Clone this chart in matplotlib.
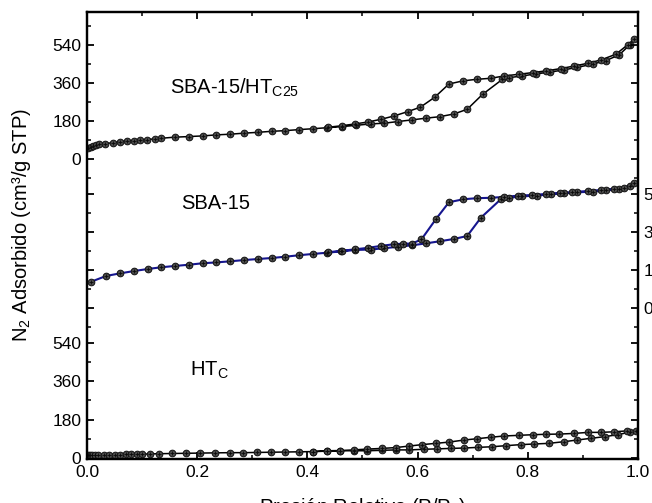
import matplotlib
matplotlib.use("Agg")
import matplotlib.pyplot as plt
from matplotlib.ticker import FixedLocator

plt.rcParams['font.family'] = ['Liberation Sans', 'DejaVu Sans']
plt.rcParams['mathtext.fontset'] = 'custom'
plt.rcParams['mathtext.rm'] = 'Liberation Sans'
plt.rcParams['mathtext.default'] = 'regular'

# --- datos (P/Po, cm3/g STP) ---
# SBA-15/HT_C25
comp_ads_x = [0.002, 0.007, 0.011, 0.016, 0.022, 0.033, 0.048, 0.060, 0.072, 0.085, 0.097, 0.109,
              0.123, 0.135, 0.159, 0.185, 0.210, 0.235, 0.259, 0.285, 0.310, 0.336, 0.360, 0.385,
              0.410, 0.436, 0.462, 0.488, 0.515, 0.539, 0.564, 0.590, 0.615, 0.640, 0.666, 0.690,
              0.718, 0.754, 0.766, 0.790, 0.815, 0.840, 0.866, 0.890, 0.918, 0.942, 0.966, 0.985, 0.993]
comp_ads_y = [51, 58, 63, 66, 70, 73, 77, 82, 85, 87, 90, 92,
              95, 98, 103, 106, 109, 114, 117, 122, 126, 131, 134, 139,
              143, 148, 153, 159, 166, 169, 177, 185, 193, 200, 213, 235,
              306, 377, 385, 393, 403, 411, 422, 434, 449, 466, 493, 540, 567]
comp_des_x = [0.981, 0.960, 0.933, 0.909, 0.884, 0.860, 0.833, 0.809, 0.784, 0.757, 0.733, 0.707,
              0.683, 0.657, 0.631, 0.605, 0.582, 0.558, 0.534, 0.510, 0.487, 0.462, 0.437]
comp_des_y = [540, 496, 469, 453, 440, 428, 417, 409, 401, 393, 382, 377,
              370, 355, 292, 245, 224, 204, 188, 175, 166, 157, 150]

# SBA-15
sba_ads_x = [0.008, 0.035, 0.060, 0.085, 0.111, 0.135, 0.159, 0.185, 0.210, 0.235, 0.259, 0.285,
             0.310, 0.336, 0.360, 0.385, 0.410, 0.436, 0.461, 0.487, 0.515, 0.539, 0.564, 0.590,
             0.615, 0.640, 0.666, 0.690, 0.715, 0.751, 0.766, 0.790, 0.816, 0.842, 0.866, 0.890,
             0.918, 0.942, 0.966, 0.985, 0.993]
sba_ads_y = [125, 152, 164, 175, 185, 193, 199, 205, 212, 216, 221, 227,
             232, 237, 243, 250, 256, 262, 268, 275, 277, 283, 290, 297,
             306, 316, 327, 341, 428, 515, 522, 529, 532, 539, 543, 548,
             551, 558, 564, 578, 592]
sba_des_x = [0.975, 0.957, 0.933, 0.909, 0.881, 0.859, 0.833, 0.807, 0.782, 0.757, 0.733, 0.707,
             0.683, 0.657, 0.633, 0.607, 0.590, 0.574, 0.557, 0.533, 0.510, 0.487, 0.462, 0.437]
sba_des_y = [567, 564, 559, 554, 549, 545, 540, 535, 532, 526, 522, 520,
             515, 501, 420, 325, 305, 305, 302, 294, 285, 278, 271, 264]

# HT_C
ht_ads_x = [0.002, 0.006, 0.010, 0.015, 0.020, 0.030, 0.040, 0.050, 0.060, 0.070, 0.080, 0.090,
            0.100, 0.115, 0.130, 0.155, 0.180, 0.205, 0.233, 0.260, 0.284, 0.309, 0.334, 0.360,
            0.385, 0.410, 0.436, 0.460, 0.484, 0.509, 0.535, 0.560, 0.584, 0.612, 0.636, 0.660,
            0.685, 0.710, 0.735, 0.760, 0.787, 0.812, 0.838, 0.866, 0.890, 0.915, 0.940, 0.963,
            0.985, 0.997]
ht_ads_y = [10, 11, 12, 12, 13, 13, 14, 14, 14, 15, 15, 16,
            16, 17, 18, 19, 20, 21, 22, 23, 23, 24, 25, 26,
            27, 28, 30, 32, 32, 32, 34, 36, 36, 39, 41, 43,
            45, 48, 51, 56, 61, 64, 67, 75, 83, 91, 99, 108,
            120, 127]
ht_des_x = [0.980, 0.957, 0.933, 0.909, 0.884, 0.857, 0.833, 0.809, 0.784, 0.757, 0.733, 0.708,
            0.685, 0.657, 0.633, 0.608, 0.584, 0.560, 0.535, 0.509, 0.484, 0.460, 0.436, 0.410]
ht_des_y = [126, 122, 119, 119, 114, 111, 110, 108, 105, 102, 96, 89,
            83, 73, 67, 61, 54, 47, 43, 40, 36, 33, 32, 28]

y_ticks = [0, 180, 360, 540]

# desplazamiento vertical de cada isoterma (unidades del eje)
OFF_HT, OFF_SBA, OFF_COMP = 0, 708, 1414

fig = plt.figure(figsize=(6.52, 5.03), dpi=100)
ax = fig.add_axes([0.1334, 0.0875, 0.8451, 0.8887])


def iso(xa, ya, xd, yd, off, color, lw):
    x = xa + xd
    y = [v + off for v in ya + yd]
    ax.plot(x, y, '-', color=color, lw=lw, zorder=2)
    ax.plot(x, y, 'o', ms=4.8, mfc='#4a4a4a', mec='#111111', mew=0.7, zorder=3)
    ax.plot(x, y, '+', ms=3.4, color='#0a0a0a', mew=0.6, zorder=4)


iso(comp_ads_x, comp_ads_y, comp_des_x, comp_des_y, OFF_COMP, 'black', 1.1)
iso(sba_ads_x, sba_ads_y, sba_des_x, sba_des_y, OFF_SBA, '#16168f', 1.5)
iso(ht_ads_x, ht_ads_y, ht_des_x, ht_des_y, OFF_HT, 'black', 1.1)

ax.set_xlim(0, 1.0)
ax.set_ylim(-7, 2110)

# ticks eje y: etiquetas solo arriba y abajo a la izquierda, medio a la derecha
major = [OFF_HT + v for v in y_ticks] + [OFF_SBA + v for v in y_ticks] + [OFF_COMP + v for v in y_ticks]
left_lab = [str(v) for v in y_ticks] + [''] * 4 + [str(v) for v in y_ticks]
right_lab = [''] * 4 + [str(v) for v in y_ticks] + [''] * 4
minor = ([OFF_HT + v for v in (90, 270, 450)] +
         [OFF_SBA + v for v in (-90, 90, 270, 450)] +
         [OFF_COMP + v for v in (-90, 90, 270, 450, 630)])

ax.yaxis.set_major_locator(FixedLocator(major))
ax.set_yticklabels(left_lab)
ax.yaxis.set_minor_locator(FixedLocator(minor))
ax.xaxis.set_major_locator(FixedLocator([0, 0.2, 0.4, 0.6, 0.8, 1.0]))
ax.xaxis.set_minor_locator(FixedLocator([0.1, 0.3, 0.5, 0.7, 0.9]))
ax.set_xticklabels(['0.0', '0.2', '0.4', '0.6', '0.8', '1.0'])

ax2 = ax.twinx()
ax2.set_ylim(ax.get_ylim())
ax2.yaxis.set_major_locator(FixedLocator(major))
ax2.set_yticklabels(right_lab)
ax2.yaxis.set_minor_locator(FixedLocator(minor))

for a in (ax, ax2):
    a.tick_params(which='major', direction='in', length=5, width=1.3, labelsize=12.5, pad=4)
    a.tick_params(which='minor', direction='in', length=3, width=1.1)
    for s in a.spines.values():
        s.set_linewidth(1.6)
ax.tick_params(axis='x', which='both', top=True)

ax.text(0.151, 1750, 'SBA-15/HT$_{C25}$', fontsize=14.5, va='center')
ax.text(0.171, 1205, 'SBA-15', fontsize=14.5, va='center')
ax.text(0.187, 414, 'HT$_C$', fontsize=14.5, va='center')

ax.set_ylabel('N$_2$ Adsorbido (cm³/g STP)', fontsize=14.5)
ax.yaxis.set_label_coords(-0.098, 0.523)
ax.set_xlabel('Presión Relativa (P/P$_0$)', fontsize=14.5)
ax.xaxis.set_label_coords(0.5, -0.083)

fig.savefig('out.png', dpi=100)
